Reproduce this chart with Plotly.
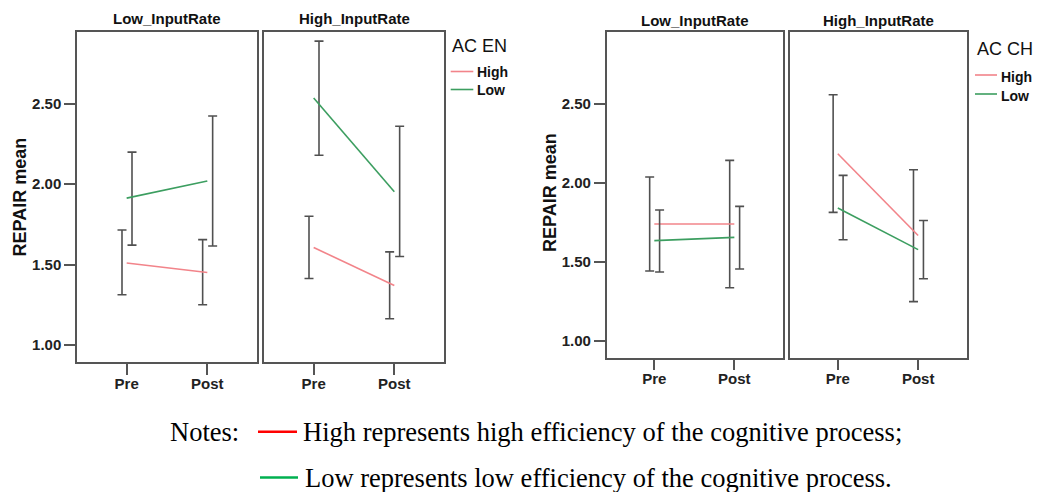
import plotly.graph_objects as go

# ---------------- data ----------------
categories = ["Pre", "Post"]
panel_titles = ["Low_InputRate", "High_InputRate"]
groups = ["High", "Low"]

# AC EN - Low_InputRate
en_lowrate_high_mean = [1.51, 1.45]
en_lowrate_high_upper = [1.715, 1.655]
en_lowrate_high_lower = [1.312, 1.25]
en_lowrate_low_mean = [1.913, 2.02]
en_lowrate_low_upper = [2.199, 2.424]
en_lowrate_low_lower = [1.621, 1.615]
# AC EN - High_InputRate
en_highrate_high_mean = [1.606, 1.37]
en_highrate_high_upper = [1.80, 1.579]
en_highrate_high_lower = [1.413, 1.163]
en_highrate_low_mean = [2.535, 1.952]
en_highrate_low_upper = [2.889, 2.36]
en_highrate_low_lower = [2.18, 1.55]
# AC CH - Low_InputRate
ch_lowrate_high_mean = [1.74, 1.74]
ch_lowrate_high_upper = [2.038, 2.143]
ch_lowrate_high_lower = [1.443, 1.337]
ch_lowrate_low_mean = [1.635, 1.656]
ch_lowrate_low_upper = [1.829, 1.852]
ch_lowrate_low_lower = [1.437, 1.456]
# AC CH - High_InputRate
ch_highrate_high_mean = [2.185, 1.668]
ch_highrate_high_upper = [2.559, 2.084]
ch_highrate_high_lower = [1.814, 1.249]
ch_highrate_low_mean = [1.842, 1.578]
ch_highrate_low_upper = [2.048, 1.763]
ch_highrate_low_lower = [1.641, 1.394]

y_ticks = [1.0, 1.5, 2.0, 2.5]

# ---------------- style ----------------
W, H = 1037, 492
RED = "#F2848A"
GREEN = "#3C9E60"
BAR = "#505050"
FRAME = "#555555"
SANS = "Liberation Sans, Arial, sans-serif"
SERIF = "Liberation Serif, Times New Roman, serif"


def px(x):
    return x / W


def py(y):
    return 1 - y / H


fig = go.Figure()

panels = [
    ("", (en_lowrate_high_mean, en_lowrate_high_upper, en_lowrate_high_lower),
         (en_lowrate_low_mean, en_lowrate_low_upper, en_lowrate_low_lower)),
    ("2", (en_highrate_high_mean, en_highrate_high_upper, en_highrate_high_lower),
          (en_highrate_low_mean, en_highrate_low_upper, en_highrate_low_lower)),
    ("3", (ch_lowrate_high_mean, ch_lowrate_high_upper, ch_lowrate_high_lower),
          (ch_lowrate_low_mean, ch_lowrate_low_upper, ch_lowrate_low_lower)),
    ("4", (ch_highrate_high_mean, ch_highrate_high_upper, ch_highrate_high_lower),
          (ch_highrate_low_mean, ch_highrate_low_upper, ch_highrate_low_lower)),
]

offsets = {"High": -0.058, "Low": 0.066}
colors = {"High": RED, "Low": GREEN}

for suffix, high, low in panels:
    for name, (mean, up, lo) in (("High", high), ("Low", low)):
        xs = list(range(len(categories)))
        fig.add_trace(go.Scatter(
            x=[i + offsets[name] for i in xs], y=mean, mode="markers",
            marker=dict(size=1, opacity=0),
            error_y=dict(type="data", symmetric=False,
                         array=[u - m for u, m in zip(up, mean)],
                         arrayminus=[m - l for m, l in zip(mean, lo)],
                         color=BAR, thickness=1.6, width=4.5),
            xaxis="x" + suffix, yaxis="y" + suffix, showlegend=False,
            hoverinfo="skip"))
        fig.add_trace(go.Scatter(
            x=xs, y=mean, mode="lines", line=dict(color=colors[name], width=1.6),
            name=name, xaxis="x" + suffix, yaxis="y" + suffix, showlegend=False))

axis_common = dict(showline=True, mirror=True, linecolor=FRAME, linewidth=1.5,
                   showgrid=False, zeroline=False)
x_common = dict(axis_common, tickvals=[0, 1], ticktext=categories, ticks="outside",
                ticklen=11, tickwidth=1.5, tickcolor=FRAME, ticklabelstandoff=-4,
                tickfont=dict(family=SANS, size=15, color="#222", weight="bold"))
y_shown = dict(axis_common, tickvals=y_ticks, ticktext=[f"{v:.2f}" for v in y_ticks],
               ticks="outside", ticklen=11, tickwidth=1.5, tickcolor=FRAME,
               tickfont=dict(family=SANS, size=15, color="#222", weight="bold"))
y_hidden = dict(axis_common, showticklabels=False, ticks="")

left_y = [py(362), py(32)]
right_y = [py(357.7), py(32.3)]
left_yr = [0.894, 2.946]
right_yr = [0.894, 2.954]

fig.update_layout(
    width=W, height=H, margin=dict(l=0, r=0, t=0, b=0),
    paper_bgcolor="white", plot_bgcolor="white", showlegend=False,
    xaxis=dict(x_common, domain=[px(77), px(257)], range=[-0.616, 1.616], anchor="y"),
    xaxis2=dict(x_common, domain=[px(264), px(444)], range=[-0.616, 1.616], anchor="y2"),
    xaxis3=dict(x_common, domain=[px(606.7), px(783.3)], range=[-0.595, 1.612], anchor="y3"),
    xaxis4=dict(x_common, domain=[px(790), px(967.3)], range=[-0.595, 1.612], anchor="y4"),
    yaxis=dict(y_shown, domain=left_y, range=left_yr, anchor="x"),
    yaxis2=dict(y_hidden, domain=left_y, range=left_yr, anchor="x2"),
    yaxis3=dict(y_shown, domain=right_y, range=right_yr, anchor="x3"),
    yaxis4=dict(y_hidden, domain=right_y, range=right_yr, anchor="x4"),
)

ann = []
shapes = []


def text(x, y, s, size, family=SANS, weight="normal", xanchor="center", angle=0, color="#111"):
    ann.append(dict(x=px(x), y=py(y), xref="paper", yref="paper", text=s, showarrow=False,
                    xanchor=xanchor, yanchor="middle", textangle=angle,
                    font=dict(family=family, size=size, color=color, weight=weight)))


def hline(x0, x1, y, color, width):
    shapes.append(dict(type="line", xref="paper", yref="paper", x0=px(x0), x1=px(x1),
                       y0=py(y), y1=py(y), line=dict(color=color, width=width)))


# panel titles
text(167, 18.5, panel_titles[0], 15, weight="bold")
text(354, 18.5, panel_titles[1], 15, weight="bold")
text(695, 20, panel_titles[0], 15, weight="bold")
text(878.6, 20, panel_titles[1], 15, weight="bold")

# y-axis titles
text(19.5, 197, "REPAIR mean", 18, weight="bold", angle=-90)
text(550, 193, "REPAIR mean", 18, weight="bold", angle=-90)

# legends
text(450, 46.5, "AC EN", 18, xanchor="left")
hline(450.7, 473.3, 71.5, RED, 1.6)
hline(450.7, 473.3, 89.5, GREEN, 1.6)
text(475, 72.5, groups[0], 14, weight="bold", xanchor="left")
text(475, 90, groups[1], 14, weight="bold", xanchor="left")

text(975, 49.5, "AC CH", 18, xanchor="left")
hline(975, 997, 75, RED, 1.6)
hline(975, 997, 94, GREEN, 1.6)
text(999, 76.5, groups[0], 14, weight="bold", xanchor="left")
text(999, 95.5, groups[1], 14, weight="bold", xanchor="left")

# notes
text(168, 432, "Notes:", 26.5, family=SERIF, xanchor="left", color="#000")
hline(258, 297, 431.7, "#FF0000", 2.5)
text(301, 432, "High represents high efficiency of the cognitive process;", 26.5,
     family=SERIF, xanchor="left", color="#000")
hline(260, 298, 477.5, "#00B050", 2.5)
text(303, 478, "Low represents low efficiency of the cognitive process.", 26.5,
     family=SERIF, xanchor="left", color="#000")

fig.update_layout(annotations=ann, shapes=shapes)

fig.write_html("out.html")
